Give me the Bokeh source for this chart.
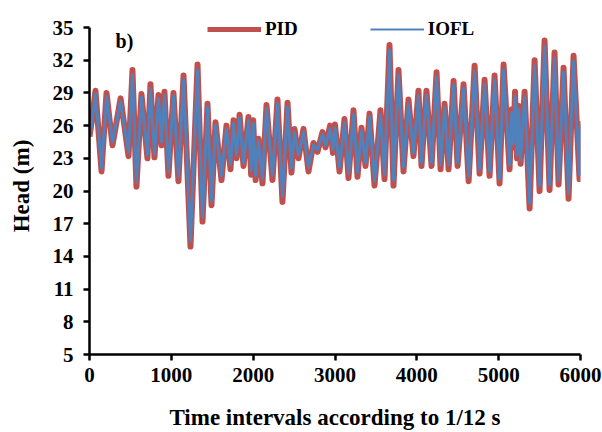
from bokeh.plotting import figure
from bokeh.models import FixedTicker, Legend, LegendItem, Label, ColumnDataSource
from bokeh.embed import file_html
from bokeh.resources import INLINE

# time (1/12 s intervals) at the turning points
t = [0, 30, 73, 147, 208, 281, 380, 477, 525, 574, 635, 708, 745, 794, 843, 880, 916, 965,
     1026, 1087, 1149, 1234, 1320, 1381, 1442, 1491, 1540, 1613, 1674, 1723, 1760, 1797, 1834, 1882, 1943, 1975,
     2000, 2030, 2065, 2114, 2163, 2236, 2297, 2358, 2420, 2468, 2505, 2554, 2615, 2676, 2737, 2786, 2847, 2884, 2940, 2975,
     3000, 3055, 3116, 3165, 3226, 3275, 3324, 3373, 3422, 3483, 3556, 3605, 3666, 3715, 3776, 3837, 3898, 3959,
     4020, 4057, 4118, 4180, 4241, 4290, 4339, 4388, 4449, 4498, 4571, 4633, 4706, 4767, 4828, 4889, 4950,
     5011, 5060, 5133, 5160, 5178, 5200, 5225, 5245, 5268, 5317, 5378, 5439, 5500, 5561, 5622, 5683, 5732, 5793,
     5854, 5915, 5988, 6000]

pid = [25.0, 26.5, 29.2, 21.8, 29.0, 24.2, 28.5, 23.2, 31.1, 20.4, 28.9, 23.0, 29.8, 23.1, 28.8, 24.2, 29.1, 21.4,
       29.0, 20.9, 30.6, 14.9, 31.6, 17.2, 28.0, 18.7, 26.3, 21.0, 26.0, 22.0, 26.5, 23.0, 27.0, 22.3, 26.8, 21.5,
       26.5, 21.0, 24.8, 20.7, 27.9, 21.0, 28.4, 19.0, 28.1, 21.7, 25.7, 23.0, 25.7, 21.8, 24.4, 23.6, 25.4, 24.0, 26.0, 23.5,
       26.1, 21.8, 26.6, 21.2, 27.4, 21.3, 25.8, 22.3, 27.1, 20.5, 27.4, 21.1, 33.4, 20.5, 31.1, 21.8, 28.4, 23.2,
       29.2, 22.3, 29.2, 22.3, 30.9, 22.0, 28.0, 22.0, 30.1, 22.3, 29.8, 20.9, 31.5, 21.6, 30.2, 21.4, 30.6,
       20.7, 31.6, 22.0, 27.5, 24.0, 29.1, 23.0, 27.8, 22.5, 29.1, 18.4, 32.0, 20.0, 33.8, 20.1, 32.7, 20.6, 31.3,
       19.3, 32.4, 21.1, 26.4]

iofl = [25.2, 26.3, 28.9, 22.1, 28.7, 24.5, 28.2, 23.5, 30.7, 20.8, 28.6, 23.3, 29.4, 23.4, 28.5, 24.5, 28.8, 21.8,
        28.7, 21.3, 30.2, 15.4, 31.1, 17.6, 27.7, 19.1, 26.0, 21.4, 25.7, 22.4, 26.2, 23.3, 26.7, 22.6, 26.5, 21.9,
        26.2, 21.4, 24.6, 21.1, 27.6, 21.4, 28.0, 19.5, 27.7, 22.1, 25.4, 23.3, 25.4, 22.2, 24.2, 23.8, 25.2, 24.2, 25.7, 23.8,
        25.8, 22.2, 26.3, 21.6, 27.0, 21.7, 25.5, 22.6, 26.8, 20.9, 27.0, 21.5, 32.9, 21.0, 30.7, 22.2, 28.0, 23.5,
        28.8, 22.6, 28.8, 22.6, 30.5, 22.4, 27.7, 22.4, 29.7, 22.6, 29.4, 21.3, 31.0, 22.0, 29.8, 21.8, 30.2,
        21.1, 31.1, 22.4, 27.2, 24.3, 28.7, 23.3, 27.5, 22.8, 28.7, 18.9, 31.5, 20.5, 33.3, 20.6, 32.2, 21.0, 30.9,
        19.8, 31.9, 21.5, 26.1]

y_ticks = [5, 8, 11, 14, 17, 20, 23, 26, 29, 32, 35]
x_ticks = [0, 1000, 2000, 3000, 4000, 5000, 6000]

n = min(len(t), len(pid), len(iofl))
src = ColumnDataSource(dict(t=t[:n], pid=pid[:n], iofl=iofl[:n]))

FONT = "Liberation Serif"
RED = "#C0504D"
BLUE = "#4F81BD"

p = figure(width=602, height=432, output_backend="svg", toolbar_location=None,
           x_range=(0, 6000), y_range=(5, 35.92),
           min_border_left=89, min_border_right=22, min_border_top=17, min_border_bottom=77)
p.outline_line_color = None
p.xgrid.visible = False
p.ygrid.visible = False
p.background_fill_color = "white"
p.border_fill_color = "white"

p.line("t", "pid", source=src, line_color=RED, line_width=6, line_join="round")
p.line("t", "iofl", source=src, line_color=BLUE, line_width=3, line_join="round")

# legend swatches: single off-range points, so the key lines keep their own widths
key_src = ColumnDataSource(dict(t=[-1000], v=[0]))
k1 = p.line("t", "v", source=key_src, line_color=RED, line_width=5)
k2 = p.line("t", "v", source=key_src, line_color=BLUE, line_width=1.8)

for ax in (p.xaxis[0], p.yaxis[0]):
    ax.axis_line_width = 2.5
    ax.axis_line_color = "black"
    ax.major_tick_line_width = 2.5
    ax.major_tick_line_color = "black"
    ax.major_tick_in = 0
    ax.major_tick_out = 6
    ax.minor_tick_line_color = None
    ax.major_label_text_font = FONT
    ax.major_label_text_font_style = "bold"
    ax.major_label_text_font_size = "21px"
    ax.major_label_text_color = "black"
    ax.axis_label_text_font = FONT
    ax.axis_label_text_font_style = "bold"
    ax.axis_label_text_font_size = "23px"
    ax.axis_label_text_color = "black"

p.xaxis[0].ticker = FixedTicker(ticks=x_ticks)
p.yaxis[0].ticker = FixedTicker(ticks=y_ticks)
p.yaxis[0].bounds = (5, 35)
p.xaxis[0].major_label_standoff = 7
p.yaxis[0].major_label_standoff = 10
p.xaxis[0].axis_label = "Time intervals according to 1/12 s"
p.yaxis[0].axis_label = "Head (m)"
p.xaxis[0].axis_label_standoff = 20
p.yaxis[0].axis_label_standoff = 16

legend = Legend(items=[LegendItem(label="PID", renderers=[k1]),
                       LegendItem(label="IOFL", renderers=[k2])],
                orientation="horizontal", location=(118, 314),
                glyph_width=54, glyph_height=20, label_standoff=4, spacing=72,
                padding=0, margin=0, border_line_color=None, background_fill_alpha=0,
                label_text_font=FONT, label_text_font_style="bold", label_text_font_size="19px",
                label_text_color="black")
p.add_layout(legend)

p.add_layout(Label(x=318, y=33.8, text="b)", text_font=FONT, text_font_style="bold",
                   text_font_size="20px", text_baseline="middle", text_color="black"))

open("out.html", "w").write(file_html(p, INLINE))
